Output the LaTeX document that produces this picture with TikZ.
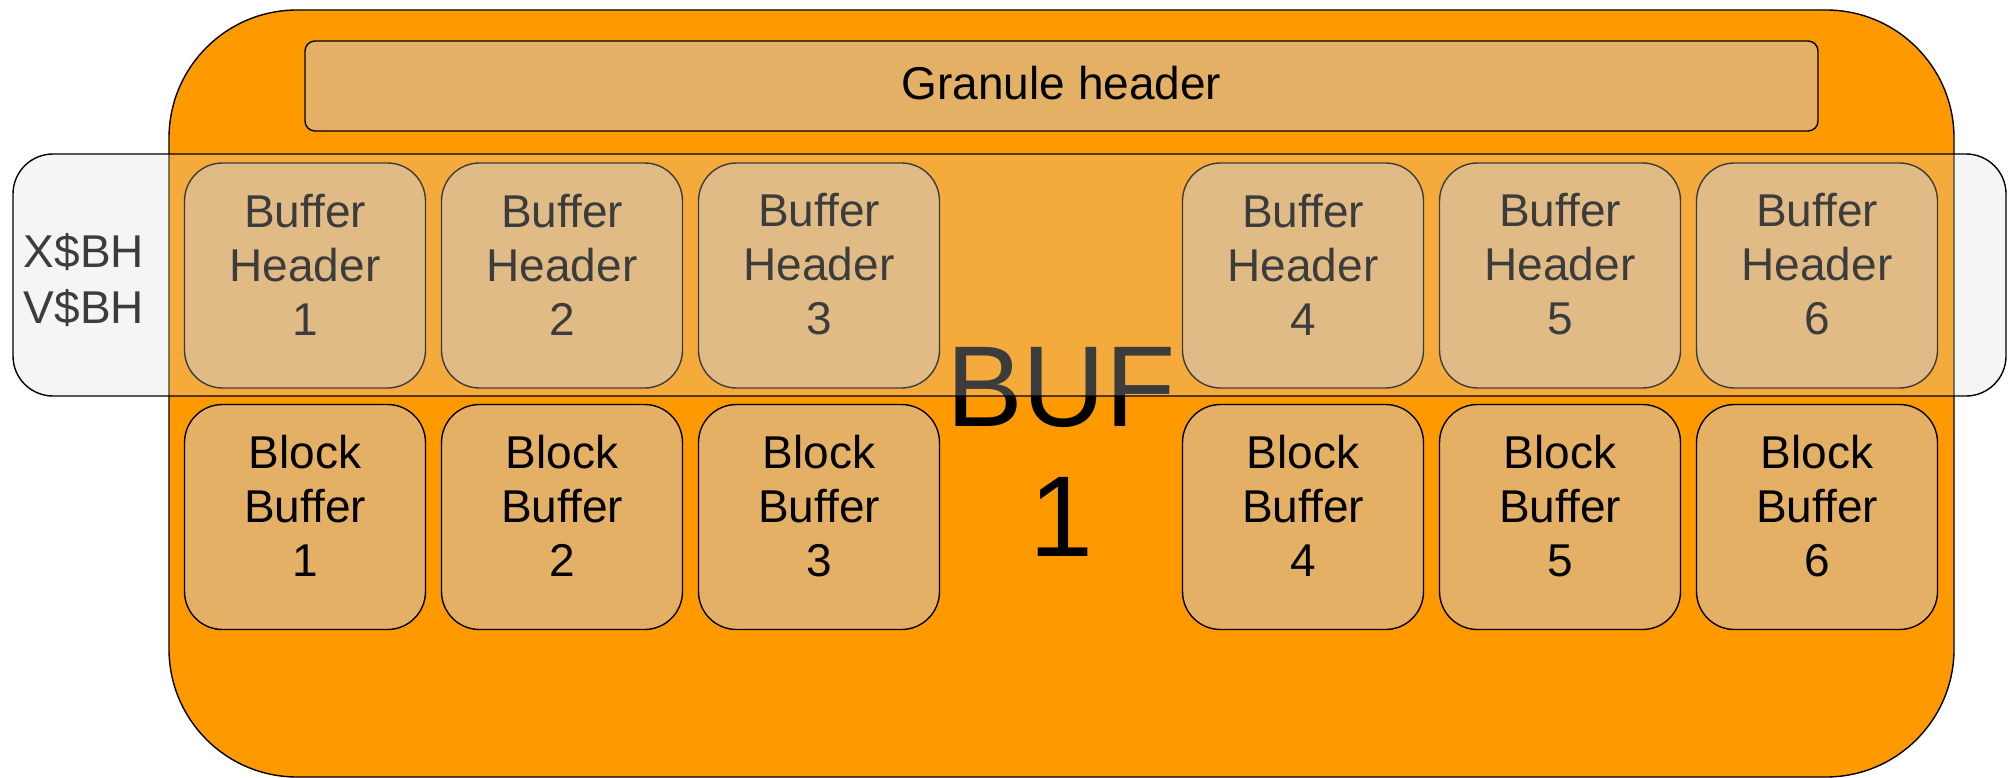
\documentclass[tikz,border=0pt]{standalone}
\usepackage{fontspec}
\setmainfont{Liberation Sans}
\definecolor{orangebg}{HTML}{FF9900}
\definecolor{boxfill}{HTML}{E3B066}
\definecolor{bandfill}{HTML}{DBDBDB}
\begin{document}
\begin{tikzpicture}[x=1pt,y=-1pt,
  outer/.style={draw=black, line width=1.4pt, fill=orangebg, rounded corners=128pt,
    minimum width=1785pt, minimum height=767pt, inner sep=0pt},
  granule/.style={draw=black, line width=1.4pt, fill=boxfill, rounded corners=10pt,
    minimum width=1513pt, minimum height=90pt, inner sep=0pt},
  cell/.style={draw=black, line width=1.4pt, fill=boxfill, rounded corners=38pt,
    minimum width=241pt, minimum height=225pt, inner sep=0pt},
  celltext/.style={align=center, inner sep=0pt, font=\fontsize{46}{54}\selectfont},
  band/.style={draw=black, line width=1.4pt, fill=bandfill, fill opacity=0.28, draw opacity=1,
    rounded corners=40pt, minimum width=1993pt, minimum height=242pt, inner sep=0pt},
  big/.style={align=center, inner sep=0pt, font=\fontsize{115}{130}\selectfont}
]
\useasboundingbox (0,0) rectangle (2009,778);
\node[outer] (buf) at (1061.5,393.5) {};
\node[granule] (gh) at (1061.5,86) {};
\node[celltext, yshift=3pt] (ghtext) at (gh.center) {Granule header};
% header cells
\foreach \i/\x in {1/305,2/562,3/819,4/1303,5/1560,6/1817}{
  \node[cell] (bh\i) at (\x,275.5) {};
  \node[celltext, yshift=11pt] (bht\i) at (bh\i.center) {Buffer\\Header\\\i};
  \node[cell] (bb\i) at (\x,517) {};
  \node[celltext, yshift=11pt] (bbt\i) at (bb\i.center) {Block\\Buffer\\\i};
}
\node[big] (buflabel) at (1061,452) {BUF\\1};
\node[celltext, font=\fontsize{46}{56}\selectfont] (xbh) at (84,280) {X\$BH\\V\$BH};
\node[band] (bandbox) at (1009.5,275) {};
\end{tikzpicture}
\end{document}
